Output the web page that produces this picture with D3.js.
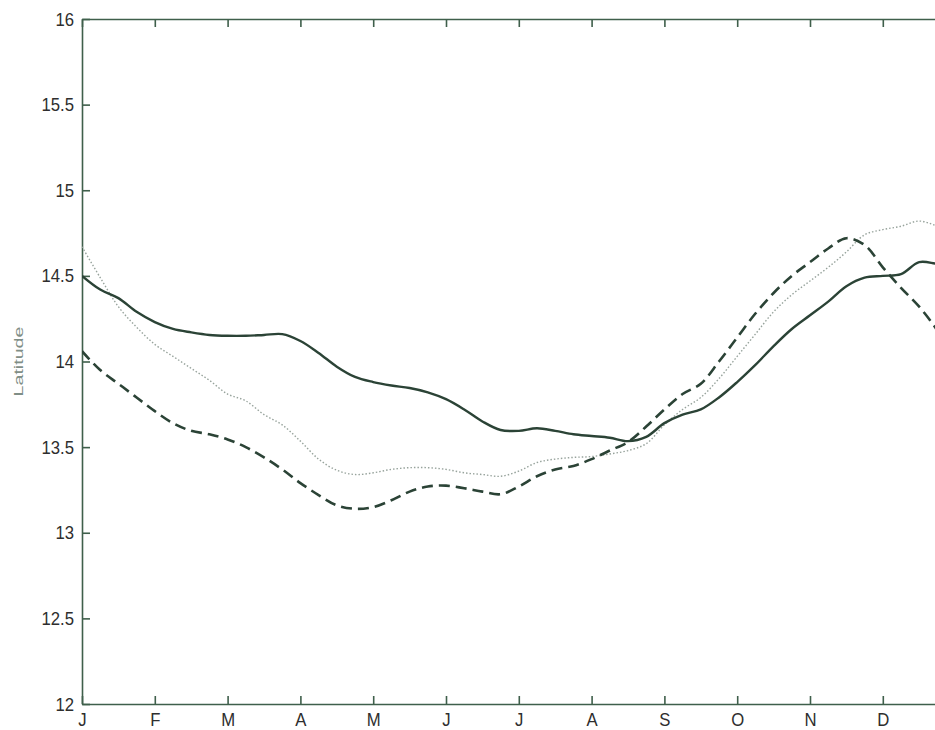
<!DOCTYPE html>
<html lang="en">
<head>
    <meta charset="UTF-8">
    <title>Latitude by month</title>
    <style>
        body {
            margin: 0;
            background-color: #ffffff;
            overflow: hidden;
        }
        svg {
            display: block;
            font-family: "Liberation Sans", Arial, sans-serif;
        }
        .axis path, .axis line {
            stroke: #3f5f4b;
            stroke-width: 1.6px;
        }
        .axis text {
            fill: #2e2e2e;
            font-size: 19px;
        }
    </style>
</head>
<body>
    <div id="chart"></div>
    <script src="https://d3js.org/d3.v7.min.js"></script>
    <script>
        // month labels, ticks at the start of each month
        const months = ["J", "F", "M", "A", "M", "J", "J", "A", "S", "O", "N", "D"];
        const yTicks = [12, 12.5, 13, 13.5, 14, 14.5, 15, 15.5, 16];

        // sample positions, in months from Jan 1 (every quarter month)
        const monthPos = d3.range(0, 12.01, 0.25);

        // series values
        const solidSeries = [
            14.50, 14.42, 14.37, 14.29, 14.23, 14.19, 14.17, 14.155, 14.15, 14.15,
            14.155, 14.16, 14.12, 14.05, 13.97, 13.91, 13.88, 13.86, 13.845, 13.82,
            13.78, 13.72, 13.65, 13.60, 13.595, 13.61, 13.595, 13.575, 13.565, 13.555,
            13.535, 13.56, 13.64, 13.69, 13.72, 13.79, 13.88, 13.98, 14.09, 14.19,
            14.27, 14.35, 14.44, 14.49, 14.50, 14.51, 14.58, 14.57, 14.56
        ];
        const dashedSeries = [
            14.06, 13.95, 13.87, 13.79, 13.71, 13.64, 13.595, 13.575, 13.545, 13.50,
            13.44, 13.37, 13.29, 13.22, 13.16, 13.14, 13.15, 13.19, 13.24, 13.27,
            13.275, 13.26, 13.24, 13.225, 13.27, 13.33, 13.37, 13.39, 13.43, 13.48,
            13.53, 13.62, 13.72, 13.81, 13.87, 14.00, 14.14, 14.28, 14.40, 14.50,
            14.58, 14.66, 14.72, 14.68, 14.55, 14.43, 14.32, 14.18, 14.00
        ];
        const dottedSeries = [
            14.67, 14.49, 14.32, 14.20, 14.10, 14.03, 13.96, 13.89, 13.81, 13.77,
            13.69, 13.63, 13.535, 13.43, 13.365, 13.34, 13.35, 13.37, 13.38, 13.38,
            13.37, 13.35, 13.34, 13.33, 13.36, 13.41, 13.43, 13.44, 13.445, 13.46,
            13.48, 13.52, 13.63, 13.72, 13.79, 13.90, 14.03, 14.16, 14.29, 14.39,
            14.47, 14.55, 14.64, 14.74, 14.77, 14.79, 14.82, 14.79, 14.75
        ];

        const width = 935;
        const height = 730;
        const margin = {left: 82, top: 19, bottom: 26};
        const monthWidth = 72.8;

        const svg = d3.select("#chart").append("svg")
            .attr("width", width)
            .attr("height", height);

        const x = d3.scaleLinear()
            .domain([0, 12])
            .range([margin.left, margin.left + monthWidth * 12]);
        const y = d3.scaleLinear()
            .domain([12, 16])
            .range([height - margin.bottom, margin.top]);

        svg.append("clipPath").attr("id", "plot-clip")
            .append("rect")
            .attr("x", x(0)).attr("y", y(16))
            .attr("width", x(12) - x(0)).attr("height", y(12) - y(16));

        // axes with inward ticks (box style)
        const xAxis = svg.append("g")
            .attr("class", "axis")
            .attr("transform", `translate(0,${y(12)})`)
            .call(d3.axisBottom(x)
                .tickValues(d3.range(0, 12))
                .tickFormat((d, i) => months[i])
                .tickSizeInner(-8)
                .tickSizeOuter(0)
                .tickPadding(9));
        xAxis.selectAll("text")
            .attr("transform", "scale(0.88,1)");

        svg.append("g")
            .attr("class", "axis")
            .attr("transform", `translate(0,${y(16)})`)
            .call(d3.axisTop(x)
                .tickValues(d3.range(0, 12))
                .tickFormat("")
                .tickSizeInner(-8)
                .tickSizeOuter(0));

        const yAxis = svg.append("g")
            .attr("class", "axis")
            .attr("transform", `translate(${x(0)},0)`)
            .call(d3.axisLeft(y)
                .tickValues(yTicks)
                .tickFormat(d => d)
                .tickSizeInner(-8)
                .tickSizeOuter(0)
                .tickPadding(8));
        yAxis.selectAll("text")
            .attr("x", -8 / 0.88)
            .attr("transform", "scale(0.88,1)");

        svg.append("text")
            .attr("transform", `translate(23,${y(14)}) rotate(-90)`)
            .attr("text-anchor", "middle")
            .attr("textLength", 70)
            .attr("lengthAdjust", "spacingAndGlyphs")
            .attr("fill", "#7f8e86")
            .style("font-size", "13px")
            .text("Latitude");

        // lines
        const line = d3.line()
            .x((d, i) => x(monthPos[i]))
            .y(d => y(d))
            .curve(d3.curveCatmullRom.alpha(0.5));

        const plot = svg.append("g").attr("clip-path", "url(#plot-clip)");

        plot.append("path")
            .datum(dottedSeries)
            .attr("d", line)
            .attr("fill", "none")
            .attr("stroke", "#97a39c")
            .attr("stroke-width", 1.4)
            .attr("stroke-dasharray", "1.5,2");

        plot.append("path")
            .datum(dashedSeries)
            .attr("d", line)
            .attr("fill", "none")
            .attr("stroke", "#2b4336")
            .attr("stroke-width", 2.6)
            .attr("stroke-dasharray", "11,6");

        plot.append("path")
            .datum(solidSeries)
            .attr("d", line)
            .attr("fill", "none")
            .attr("stroke", "#2b4336")
            .attr("stroke-width", 2.4);
    </script>
</body>
</html>
